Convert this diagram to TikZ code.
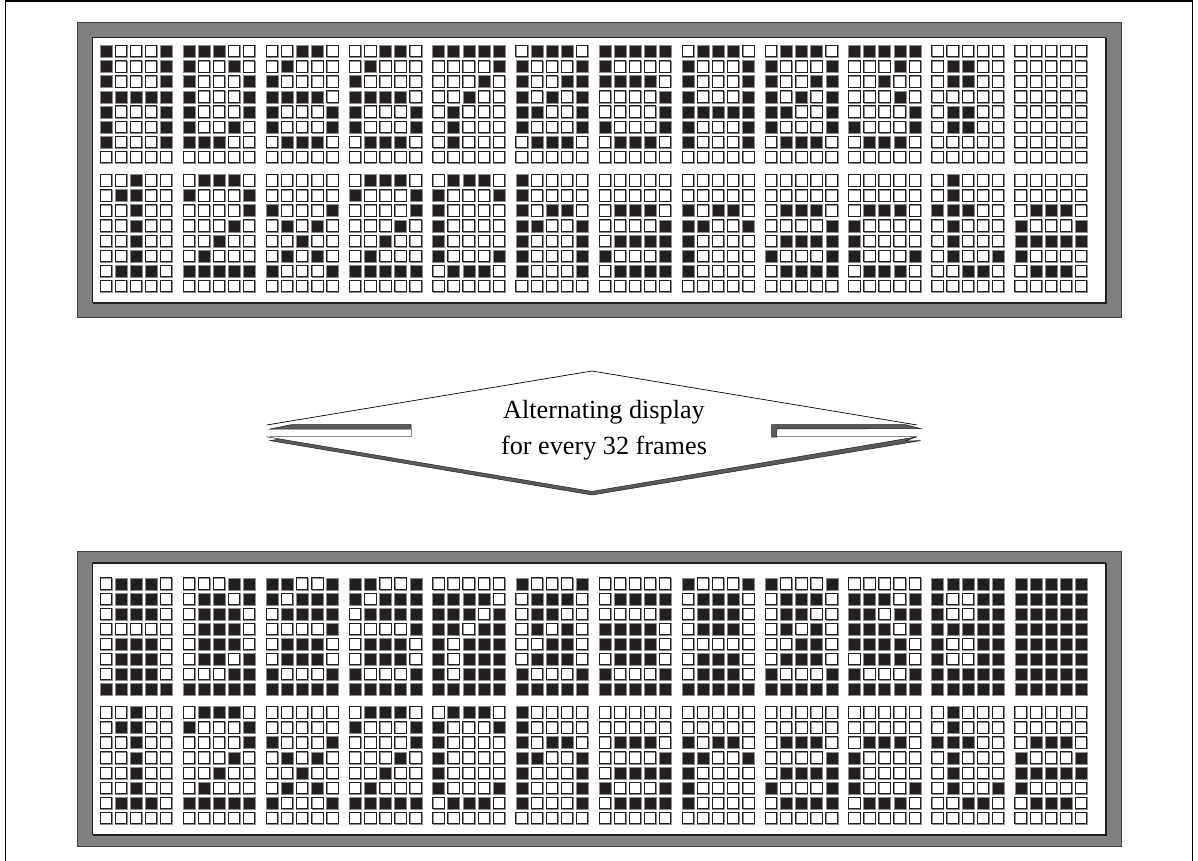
\documentclass[tikz,border=0pt]{standalone}
\usepackage{fontspec}
\setmainfont{Liberation Serif}
\usetikzlibrary{positioning,calc}

\definecolor{inkdark}{HTML}{231F20}
\definecolor{framegray}{HTML}{808080}
\definecolor{edgegray}{HTML}{8C8C8C}
\definecolor{bandgray}{HTML}{5A5A5A}

\tikzset{
    panelframe/.style={fill=framegray, draw=black!75, line width=0.9pt},
    panelface/.style={fill=white, draw=inkdark, line width=1.4pt},
    dotshade/.style={draw=edgegray, fill=white, line width=0.9pt},
    dotoff/.style={draw=inkdark, line width=0.8pt},
    doton/.style={fill=inkdark, draw=edgegray, line width=0.3pt},
    bandfill/.style={fill=bandgray, draw=inkdark, line width=0.5pt},
    slotedge/.style={draw=edgegray, line width=0.9pt}
}

% Character rows, one number per row of five dots
\newcommand{\chH}{17,17,17,31,17,17,17,0}
\newcommand{\chD}{28,18,17,17,17,18,28,0}
\newcommand{\chSix}{6,8,16,30,17,17,14,0}
\newcommand{\chSeven}{31,1,2,4,8,8,8,0}
\newcommand{\chZero}{14,17,19,21,25,17,14,0}
\newcommand{\chFive}{31,16,30,1,1,17,14,0}
\newcommand{\chA}{14,17,17,17,31,17,17,0}
\newcommand{\chThree}{31,2,4,2,1,17,14,0}
\newcommand{\chColon}{0,12,12,0,12,12,0,0}
\newcommand{\chBlank}{0,0,0,0,0,0,0,0}
\newcommand{\chOne}{4,12,4,4,4,4,14,0}
\newcommand{\chTwo}{14,17,1,2,4,8,31,0}
\newcommand{\chX}{0,0,17,10,4,10,17,0}
\newcommand{\chC}{14,17,16,16,16,17,14,0}
\newcommand{\chh}{16,16,22,25,17,17,17,0}
\newcommand{\cha}{0,0,14,1,15,17,15,0}
\newcommand{\chr}{0,0,22,25,16,16,16,0}
\newcommand{\chc}{0,0,14,16,16,17,14,0}
\newcommand{\cht}{8,8,28,8,8,9,6,0}
\newcommand{\che}{0,0,14,17,31,16,14,0}

% Line of characters: top y, characters, 1 to invert
\newcommand{\dotline}[3]{%
    \foreach \glyphrows [count=\dotchar from 0] in {#2} {
        \edef\rowlist{\glyphrows}
        \foreach \rowval [count=\dotrow from 0] in \rowlist {
            \foreach \dotcol in {0,...,4} {
                \pgfmathtruncatemacro{\lit}{mod(floor(\rowval/2^(4-\dotcol))+#3,2)}
                \pgfmathsetmacro{\xa}{99.4+83.18*\dotchar+15.1*\dotcol}
                \pgfmathsetmacro{\ya}{#1+15.1*\dotrow}
                \ifnum\lit=1
                    \draw[doton] (\xa+0.4,\ya+0.4) rectangle ++(12,12);
                \else
                    \draw[dotshade] (\xa+0.9,\ya+0.9) rectangle ++(11.8,11.8);
                    \draw[dotoff] (\xa+0.5,\ya+0.5) rectangle ++(11.4,11.4);
                \fi
            }
        }
    }%
}

\begin{document}
\begin{tikzpicture}[x=1pt,y=-1pt]
    \useasboundingbox (0,0) rectangle (1198,861);

    % Page frame
    \draw[black, line width=1.2pt] (5.7,861) -- (5.7,1) -- (1192.3,1) -- (1192.3,861);

    % Upper display
    \draw[panelframe] (77.5,22.5) rectangle (1121,317);
    \draw[panelface] (92.5,37.7) rectangle (1105.7,302.5);
    \draw[inkdark, line width=2pt] (1105.7,37.7) -- (1105.7,302.5) -- (92.5,302.5);
    \dotline{45}{\chH,\chD,\chSix,\chSix,\chSeven,\chZero,\chFive,\chA,\chZero,\chThree,\chColon,\chBlank}{0}
    \dotline{174}{\chOne,\chTwo,\chX,\chTwo,\chC,\chh,\cha,\chr,\cha,\chc,\cht,\che}{0}

    % Lower display
    \draw[panelframe] (77.5,551.7) rectangle (1121,846.5);
    \draw[panelface] (92.5,562.5) rectangle (1105.7,834.5);
    \draw[inkdark, line width=2pt] (92.5,562.5) -- (1105.7,562.5);
    \draw[inkdark, line width=2pt] (1105.7,562.5) -- (1105.7,834.5) -- (92.5,834.5);
    \dotline{577.3}{\chH,\chD,\chSix,\chSix,\chSeven,\chZero,\chFive,\chA,\chZero,\chThree,\chColon,\chBlank}{1}
    \dotline{706}{\chOne,\chTwo,\chX,\chTwo,\chC,\chh,\cha,\chr,\cha,\chc,\cht,\che}{0}

    % Alternating shape, upper edge
    \draw[black, line width=0.7pt] (266.7,425) -- (592,371) -- (917,425);

    % Left slot
    \draw[slotedge] (411,429) -- (411,436.8) -- (270,436.8);
    \draw[bandfill] (270,429) -- (292,424.5) -- (411,424.5) -- (411,429) -- cycle;

    % Right slot
    \draw[slotedge] (776,436.8) -- (917,436.8);
    \draw[bandfill] (771.7,437) -- (771.7,424.5) -- (905,424.5) -- (920.7,428.6)
        -- (776.5,429) -- (776.5,437) -- cycle;

    % Lower edge
    \draw[bandfill] (266.7,436.8) -- (592,491.4) -- (917,436.8) -- (905,441)
        -- (920.7,440.6) -- (592,495) -- (270,440.6) -- (280,439) -- cycle;

    % Label
    \node[align=center, font=\fontsize{26.2}{36}\selectfont] (caption) at (604,430)
        {Alternating display\\for every 32 frames};
\end{tikzpicture}
\end{document}
